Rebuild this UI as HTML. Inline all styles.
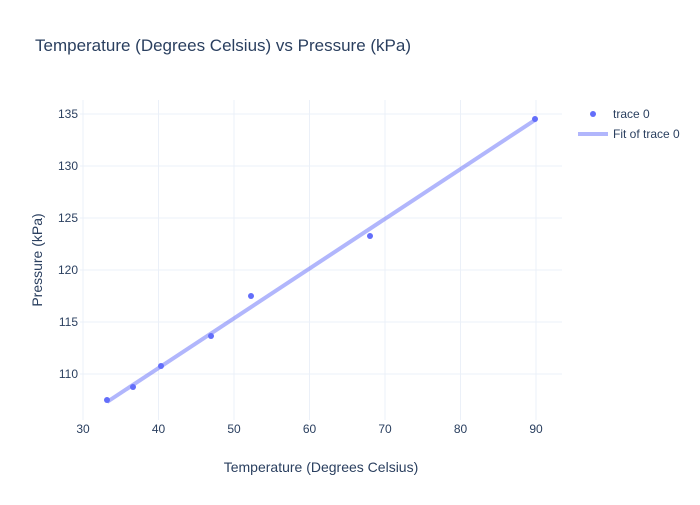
<!DOCTYPE html>
<html><head><meta charset="utf-8"><style>
body{margin:0;background:#fff;}
text{font-family:"Liberation Sans",sans-serif;fill:#2a3f5f;}
</style></head><body>
<svg width="700" height="500" xmlns="http://www.w3.org/2000/svg">
<rect width="700" height="500" fill="#fff"/>
<g stroke="#ebf0f8" stroke-width="1">
<line x1="83" y1="100" x2="83" y2="420"/>
<line x1="158.5" y1="100" x2="158.5" y2="420"/>
<line x1="234" y1="100" x2="234" y2="420"/>
<line x1="309.5" y1="100" x2="309.5" y2="420"/>
<line x1="385" y1="100" x2="385" y2="420"/>
<line x1="460.5" y1="100" x2="460.5" y2="420"/>
<line x1="536" y1="100" x2="536" y2="420"/>
<line x1="80" y1="114" x2="562" y2="114"/>
<line x1="80" y1="166" x2="562" y2="166"/>
<line x1="80" y1="218" x2="562" y2="218"/>
<line x1="80" y1="270" x2="562" y2="270"/>
<line x1="80" y1="322" x2="562" y2="322"/>
<line x1="80" y1="374" x2="562" y2="374"/>
</g>
<line x1="107" y1="402" x2="535" y2="120" stroke="#636efa" stroke-opacity="0.5" stroke-width="4"/>
<g fill="#636efa">
<circle cx="107" cy="400" r="3"/><circle cx="133" cy="387" r="3"/><circle cx="161" cy="366" r="3"/>
<circle cx="211" cy="336" r="3"/><circle cx="251" cy="296" r="3"/><circle cx="370" cy="236" r="3"/>
<circle cx="535" cy="119" r="3"/>
</g>
<g font-size="12" text-anchor="middle">
<text x="83" y="433">30</text><text x="158.5" y="433">40</text><text x="234" y="433">50</text>
<text x="309.5" y="433">60</text><text x="385" y="433">70</text><text x="460.5" y="433">80</text><text x="536" y="433">90</text>
</g>
<g font-size="12" text-anchor="end">
<text x="78" y="118">135</text><text x="78" y="170">130</text><text x="78" y="222">125</text>
<text x="78" y="274">120</text><text x="78" y="326">115</text><text x="78" y="378">110</text>
</g>
<text x="35" y="51" font-size="17">Temperature (Degrees Celsius) vs Pressure (kPa)</text>
<text x="321" y="472" font-size="14" text-anchor="middle">Temperature (Degrees Celsius)</text>
<text transform="translate(42,260) rotate(-90)" font-size="14" text-anchor="middle">Pressure (kPa)</text>
<circle cx="593" cy="114" r="3" fill="#636efa"/>
<text x="613" y="118" font-size="12">trace 0</text>
<line x1="578" y1="134" x2="608" y2="134" stroke="#636efa" stroke-opacity="0.5" stroke-width="4"/>
<text x="613" y="138" font-size="12">Fit of trace 0</text>
</svg>
</body></html>
